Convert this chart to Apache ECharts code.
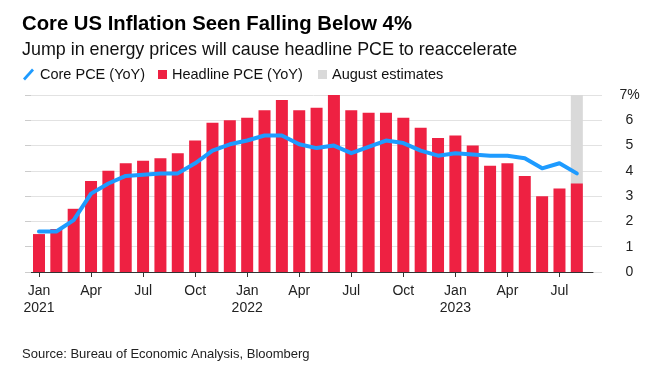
<!DOCTYPE html>
<html>
<head>
<meta charset="utf-8">
<script src="https://cdn.jsdelivr.net/npm/echarts@6/dist/echarts.min.js"></script>
<style>
html,body{margin:0;padding:0;background:#fff;}
#c{width:657px;height:371px;}
</style>
</head>
<body>
<div id="c"></div>
<script>
const categories = ['Jan 2021','Feb 2021','Mar 2021','Apr 2021','May 2021','Jun 2021','Jul 2021','Aug 2021','Sep 2021','Oct 2021','Nov 2021','Dec 2021',
  'Jan 2022','Feb 2022','Mar 2022','Apr 2022','May 2022','Jun 2022','Jul 2022','Aug 2022','Sep 2022','Oct 2022','Nov 2022','Dec 2022',
  'Jan 2023','Feb 2023','Mar 2023','Apr 2023','May 2023','Jun 2023','Jul 2023','Aug 2023'];
const headlinePCE = [1.5,1.7,2.5,3.6,4.0,4.3,4.4,4.5,4.7,5.2,5.9,6.0,
  6.1,6.4,6.8,6.4,6.5,7.0,6.4,6.3,6.3,6.1,5.7,5.3,
  5.4,5.0,4.2,4.3,3.8,3.0,3.3,3.5];
const corePCE = [1.6,1.6,2.05,3.1,3.5,3.8,3.85,3.9,3.9,4.3,4.8,5.05,
  5.2,5.4,5.4,5.05,4.9,5.0,4.7,4.95,5.2,5.1,4.8,4.6,
  4.7,4.65,4.6,4.6,4.5,4.1,4.3,3.9];
const estimateCategory = 'Aug 2023';
const estimateValue = 7;
const yTickLabels = ['0','1','2','3','4','5','6','7%'];

const estimates = categories.map(c => c === estimateCategory ? estimateValue : null);
const FONT = '"Liberation Sans", Arial, Helvetica, sans-serif';
const RED = '#ee2142';
const BLUE = '#1e9bff';
const GRAY = '#d9d9d9';

const chart = echarts.init(document.getElementById('c'), null, {renderer:'canvas'});
chart.setOption({
  animation: false,
  backgroundColor: '#fff',
  textStyle: {fontFamily: FONT},
  title: [
    {text: 'Core US Inflation Seen Falling Below 4%', left: 17, top: 9,
     textStyle: {fontFamily: FONT, fontSize: 20.3, fontWeight: 'bold', color: '#000'}},
    {text: 'Jump in energy prices will cause headline PCE to reaccelerate', left: 17, top: 36,
     textStyle: {fontFamily: FONT, fontSize: 17.9, fontWeight: 'normal', color: '#111'}},
    {text: 'Source: Bureau of Economic Analysis, Bloomberg', left: 17, top: 343,
     textStyle: {fontFamily: FONT, fontSize: 13, fontWeight: 'normal', color: '#222'}}
  ],
  legend: [
    {data: [{name: 'Core PCE (YoY)', icon: 'path://M0,10 L9,0 L11,2 L2,12 Z'}], left: 18, top: 62,
     itemWidth: 13, itemHeight: 12, textStyle: {fontFamily: FONT, fontSize: 14.5, color: '#111'}},
    {data: [{name: 'Headline PCE (YoY)', icon: 'rect'}], left: 153, top: 62,
     itemWidth: 9, itemHeight: 9, textStyle: {fontFamily: FONT, fontSize: 14.5, color: '#111'}},
    {data: [{name: 'August estimates', icon: 'rect'}], left: 313, top: 62,
     itemWidth: 9, itemHeight: 9, textStyle: {fontFamily: FONT, fontSize: 14.5, color: '#111'}}
  ],
  grid: [
    {left: 25, right: 55, top: 95, bottom: 99},
    {left: 30.3, right: 71.5, top: 95, bottom: 99},
    {left: 26, right: 64, top: 95, bottom: 99}
  ],
  xAxis: [
    {gridIndex: 0, type: 'value', show: false},
    {gridIndex: 1, type: 'category', data: categories, boundaryGap: true,
     axisLine: {show: false},
     axisTick: {show: true, interval: 2, alignWithLabel: true, length: 5, lineStyle: {color: '#333'}},
     axisLabel: {interval: 2, margin: 11, fontFamily: FONT, fontSize: 14, color: '#222', lineHeight: 17,
       formatter: function (v) {
         const p = v.split(' ');
         return p[0] === 'Jan' ? p[0] + '\n' + p[1] : p[0];
       }}},
    {gridIndex: 2, type: 'value', min: 0, max: 1,
     axisLine: {show: true, lineStyle: {color: '#333', width: 1}},
     axisTick: {show: false}, axisLabel: {show: false}, splitLine: {show: false}}
  ],
  yAxis: [
    {gridIndex: 0, type: 'value', min: 0, max: 7, interval: 1, position: 'right', offset: 6,
     axisLine: {show: false},
     axisTick: {show: true, length: 6, lineStyle: {color: '#cccccc'}},
     splitLine: {show: true, lineStyle: {color: '#e2e2e2', width: 1}},
     axisLabel: {margin: 21.5, align: 'center', fontFamily: FONT, fontSize: 14, color: '#222',
       formatter: function (v) { return yTickLabels[v]; }}},
    {gridIndex: 1, type: 'value', min: 0, max: 7, interval: 1, show: false, splitLine: {show: false}},
    {gridIndex: 2, type: 'value', min: 0, max: 7, show: false, splitLine: {show: false}}
  ],
  series: [
    {name: 'August estimates', type: 'bar', xAxisIndex: 1, yAxisIndex: 1, data: estimates,
     barWidth: 12, barGap: '-100%', itemStyle: {color: GRAY}, z: 1},
    {name: 'Headline PCE (YoY)', type: 'bar', xAxisIndex: 1, yAxisIndex: 1, data: headlinePCE,
     barWidth: 12, barGap: '-100%', itemStyle: {color: RED}, z: 2},
    {name: 'Core PCE (YoY)', type: 'line', xAxisIndex: 1, yAxisIndex: 1, data: corePCE,
     symbol: 'none', lineStyle: {color: BLUE, width: 4, cap: 'round', join: 'round'},
     itemStyle: {color: BLUE}, z: 3}
  ]
});
</script>
</body>
</html>
